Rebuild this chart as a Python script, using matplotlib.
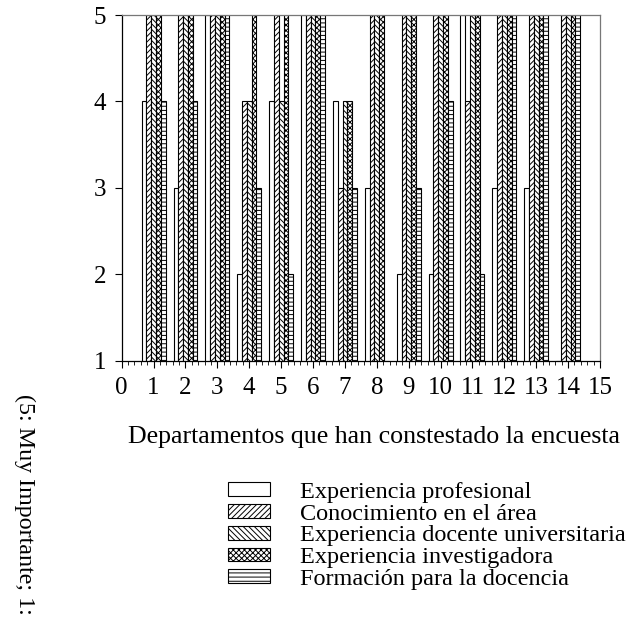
import numpy as np
import matplotlib
matplotlib.use("Agg")
import matplotlib.pyplot as plt
from matplotlib.patches import Patch
from matplotlib.ticker import MultipleLocator

plt.rcParams['font.family'] = ['Liberation Serif', 'DejaVu Serif']
plt.rcParams['hatch.linewidth'] = 0.7

departamentos = list(range(1, 15))
series_names = ["Experiencia profesional", "Conocimiento en el área",
                "Experiencia docente universitaria", "Experiencia investigadora",
                "Formación para la docencia"]
exp_profesional = [4, 3, 5, 2, 4, 5, 4, 3, 2, 2, 5, 3, 3, 1]
conocimiento    = [5, 5, 5, 4, 5, 5, 3, 5, 5, 5, 4, 5, 5, 5]
exp_docente     = [5, 5, 5, 4, 4, 5, 4, 5, 5, 5, 5, 5, 5, 5]
exp_investig    = [5, 5, 5, 5, 5, 5, 4, 5, 5, 5, 5, 5, 5, 5]
formacion       = [4, 4, 5, 3, 2, 5, 3, 1, 3, 4, 2, 5, 5, 5]
x_ticks = list(range(0, 16))
y_ticks = [1, 2, 3, 4, 5]

data = [exp_profesional, conocimiento, exp_docente, exp_investig, formacion]
hatches = [None, '//////', '\\\\\\\\\\\\', 'xxxxxx', '----']

fig = plt.figure(figsize=(6.26, 6.19), dpi=100)
ax = fig.add_axes([121.7/626, 1-360.7/619, (600-121.7)/626, (360.7-15)/619])

width = 0.15
x = np.array(departamentos, dtype=float)
for i, (vals, h) in enumerate(zip(data, hatches)):
    ax.bar(x + (i - 2) * width, vals, width=width, color='white',
           edgecolor='black', linewidth=0.8, hatch=h, zorder=2)

ax.set_xlim(0, 15)
ax.set_ylim(1, 5)
ax.set_xticks(x_ticks)
ax.set_yticks(y_ticks)
ax.xaxis.set_minor_locator(MultipleLocator(0.2))
ax.tick_params(axis='both', which='major', direction='out', length=5, width=0.8,
               labelsize=18, pad=7)
ax.tick_params(axis='y', which='major', pad=6)
ax.tick_params(axis='x', which='minor', direction='out', length=3, width=0.6)
for s in ['left', 'bottom']:
    ax.spines[s].set_linewidth(0.9)
for s in ['top', 'right']:
    ax.spines[s].set_color('#777777')
    ax.spines[s].set_linewidth(0.9)

fig.text(374/626, 1-437/619, "Departamentos que han constestado la encuesta",
         ha='center', va='center', fontsize=18.6)

fig.text(25/626, 1-394/619, "(5: Muy Importante; 1:", rotation=270,
         ha='center', va='top', fontsize=17.3)

handles = [Patch(facecolor='white', edgecolor='black', linewidth=0.8, hatch=h)
           for h in hatches]
fig.legend(handles, series_names, loc='upper left',
           bbox_to_anchor=(228/626, 1-482/619), frameon=False, fontsize=17.5,
           handlelength=1.73, handleheight=0.5, handletextpad=1.25,
           labelspacing=0.03, borderaxespad=0, borderpad=0)

fig.savefig("out.png", dpi=100)
